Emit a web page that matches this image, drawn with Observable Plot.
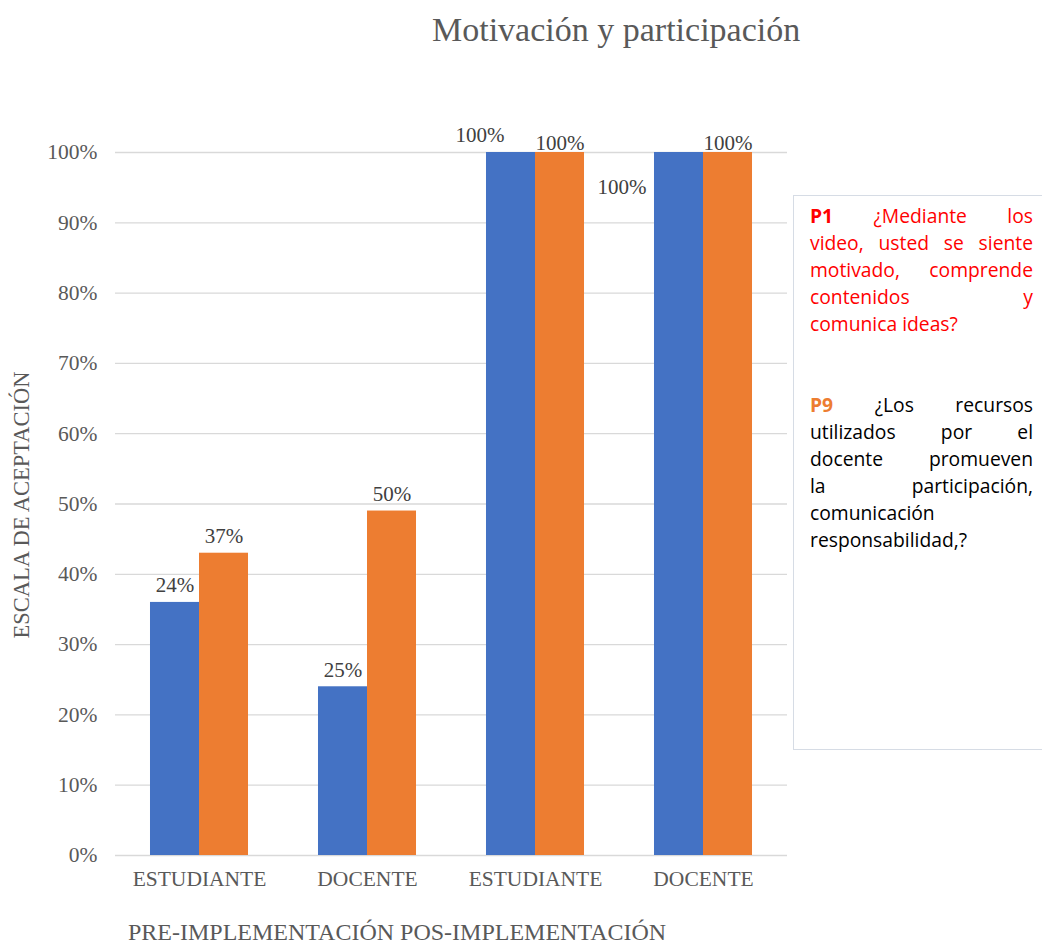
<!DOCTYPE html>
<html>
<head>
<meta charset="utf-8">
<script src="https://cdn.jsdelivr.net/npm/d3@7"></script>
<script src="https://cdn.jsdelivr.net/npm/@observablehq/plot@0.6"></script>
<style>
  html, body { margin: 0; padding: 0; background: #fff; overflow: hidden; }
  #wrap { position: relative; width: 1042px; height: 946px; overflow: hidden; }
  #title { position: absolute; left: 432px; top: 10px; font-family: "Liberation Serif", serif; font-size: 34px;
           color: #595959; white-space: nowrap; line-height: 40px; }
  #ylabel { position: absolute; left: 22px; top: 505px; transform: translate(-50%, -50%) rotate(-90deg);
            font-family: "Liberation Serif", serif; font-size: 22.5px; color: #595959; white-space: nowrap; }
  #phase { position: absolute; left: 128px; top: 920px; font-family: "Liberation Serif", serif; font-size: 24px;
           line-height: 24px; color: #595959; white-space: nowrap; }
  #legend { position: absolute; left: 793px; top: 195px; width: 260px; height: 555px; border: 1px solid #d6dce5;
            box-sizing: border-box; padding: 6px 0 0 16px; font-family: "Open Sans", sans-serif; font-size: 19.3px; }
  #legend .ln { width: 223px; line-height: 27px; text-align: justify; text-align-last: justify; white-space: nowrap; }
  #legend .ln.last { text-align-last: left; }
  #legend .p1 { color: #ff0000; }
  #legend .p9 { color: #000; }
  #legend b.k9 { color: #ed7d31; }
  #legend .gap { height: 54px; }
  #chart { position: absolute; left: 0; top: 0; }
</style>
</head>
<body>
<div id="wrap">
  <div id="chart"></div>
  <div id="title"></div>
  <div id="ylabel"></div>
  <div id="phase"></div>
  <div id="legend"></div>
</div>
<script>
// ---- data ----
const title = "Motivación y participación";
const yAxisTitle = "ESCALA DE ACEPTACIÓN";
const groups = ["ESTUDIANTE", "DOCENTE", "ESTUDIANTE", "DOCENTE"];
const phaseText = "PRE-IMPLEMENTACIÓN POS-IMPLEMENTACIÓN";
const series = ["P1", "P9"];
const p1Values = [0.36, 0.24, 1.00, 1.00];
const p9Values = [0.43, 0.49, 1.00, 1.00];
const p1Labels = ["24%", "25%", "100%", "100%"];
const p9Labels = ["37%", "50%", "100%", "100%"];
const yTicks = [0, 0.1, 0.2, 0.3, 0.4, 0.5, 0.6, 0.7, 0.8, 0.9, 1.0];
const colors = ["#4472c4", "#ed7d31"];
const p1Lines = ["¿Mediante los", "video, usted se siente", "motivado, comprende", "contenidos y", "comunica ideas?"];
const p9Lines = ["¿Los recursos", "utilizados por el", "docente promueven", "la participación,", "comunicación", "responsabilidad,?"];

// ---- build table ----
const rows = [];
groups.forEach((g, i) => {
  rows.push({gi: i, s: series[0], v: p1Values[i], label: p1Labels[i]});
  rows.push({gi: i, s: series[1], v: p9Values[i], label: p9Labels[i]});
});
const normalLabels = rows.filter(d => d.v < 1);
const p9Top = rows.filter(d => d.v >= 1 && d.s === "P9");
const p1TopA = rows.filter(d => d.v >= 1 && d.s === "P1" && d.gi === 2);
const p1TopB = rows.filter(d => d.v >= 1 && d.s === "P1" && d.gi === 3);

const labelStyle = {fontSize: 21, fill: "#404040", fontFamily: "Liberation Serif, serif"};

const chart = Plot.plot({
  width: 1042,
  height: 946,
  marginTop: 152,
  marginBottom: 91,
  marginLeft: 115,
  marginRight: 255,
  style: {fontFamily: "Liberation Serif, serif", fontSize: "21.5px", color: "#595959", background: "transparent", overflow: "visible"},
  fx: {domain: [0, 1, 2, 3], paddingInner: 0, paddingOuter: 0, round: false, label: null,
       tickFormat: i => groups[i], tickSize: 0, tickPadding: 15},
  x: {domain: series, paddingInner: 0, paddingOuter: 0.714, round: false, axis: null},
  y: {domain: [0, 1], ticks: yTicks, tickFormat: d3.format(".0%"), tickSize: 0, tickPadding: 18, label: null},
  color: {domain: series, range: colors},
  marks: [
    Plot.ruleY(yTicks, {stroke: "#d9d9d9", strokeWidth: 1.3}),
    Plot.barY(rows, {fx: "gi", x: "s", y: "v", fill: "s"}),
    Plot.text(normalLabels, {fx: "gi", x: "s", y: "v", text: "label", lineAnchor: "bottom", dy: -10, ...labelStyle}),
    Plot.text(p9Top, {fx: "gi", x: "s", y: "v", text: "label", lineAnchor: "middle", dy: -9, ...labelStyle}),
    Plot.text(p1TopA, {fx: "gi", x: "s", y: "v", text: "label", lineAnchor: "middle", dx: -31, dy: -17, ...labelStyle}),
    Plot.text(p1TopB, {fx: "gi", x: "s", y: "v", text: "label", lineAnchor: "middle", dx: -57, dy: 35, ...labelStyle})
  ]
});
document.getElementById("chart").appendChild(chart);

document.getElementById("title").textContent = title;
document.getElementById("ylabel").textContent = yAxisTitle;
document.getElementById("phase").textContent = phaseText;

const lg = document.getElementById("legend");
let html = "";
p1Lines.forEach((t, i) => {
  const last = i === p1Lines.length - 1;
  html += `<div class="ln p1${last ? " last" : ""}">${i === 0 ? "<b>P1</b> " : ""}${t}</div>`;
});
html += `<div class="gap"></div>`;
p9Lines.forEach((t, i) => {
  const last = i >= p9Lines.length - 2;
  html += `<div class="ln p9${last ? " last" : ""}">${i === 0 ? '<b class="k9">P9</b> ' : ""}${t}</div>`;
});
lg.innerHTML = html;
</script>
</body>
</html>
